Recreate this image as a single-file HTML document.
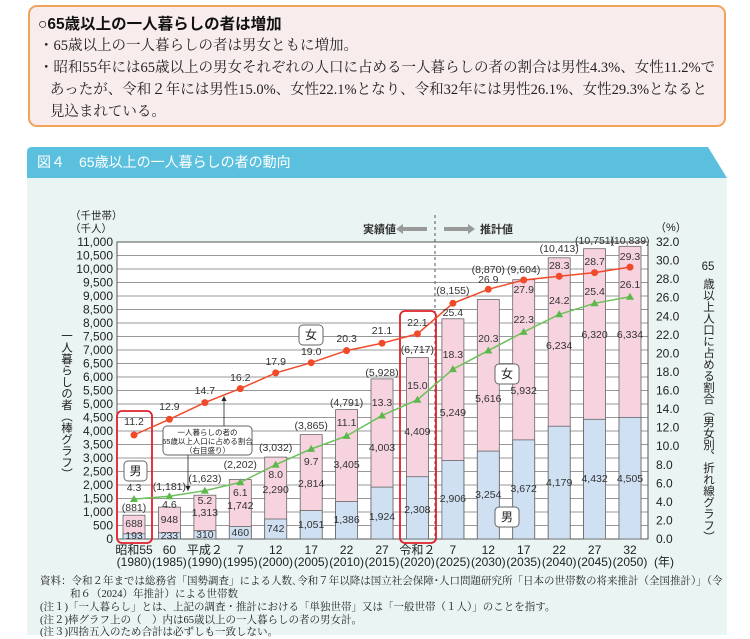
<!DOCTYPE html>
<html><head><meta charset="utf-8"><style>
html,body{margin:0;padding:0;width:750px;height:635px;overflow:hidden;background:#fff;font-family:"Liberation Sans","Noto Sans CJK JP",sans-serif;}
.box{position:absolute;left:28px;top:5px;width:694px;height:118px;border:2.5px solid #f0a35a;border-radius:9px;background:#f9ecec;}
.h{position:absolute;left:8px;top:5px;font-size:15.5px;font-weight:bold;color:#111;}
.p{position:absolute;left:9px;font-size:14.5px;color:#222;font-family:"Liberation Serif","Noto Serif CJK SC",serif;line-height:22px;white-space:nowrap;}
.foot{position:absolute;left:40px;font-size:10.5px;color:#222;font-family:"Liberation Serif","Noto Serif CJK SC",serif;white-space:nowrap;}
</style></head><body>
<div class="box">
<div class="h">○65歳以上の一人暮らしの者は増加</div>
<div class="p" style="top:28px">・65歳以上の一人暮らしの者は男女ともに増加。</div>
<div class="p" style="top:50px">・昭和55年には65歳以上の男女それぞれの人口に占める一人暮らしの者の割合は男性4.3%、女性11.2%で<br>&nbsp;&nbsp;&nbsp;あったが、令和２年には男性15.0%、女性22.1%となり、令和32年には男性26.1%、女性29.3%となると<br>&nbsp;&nbsp;&nbsp;見込まれている。</div>
</div>
<svg width="750" height="635" style="position:absolute;left:0;top:0" font-family="Liberation Sans, Noto Sans CJK JP, sans-serif">
<path d="M27,152 Q27,147 32,147 L708,147 L727,178 L27,178 Z" fill="#5bc0de"/>
<text x="37" y="167" font-size="14" fill="#fff">図４　65歳以上の一人暮らしの者の動向</text>
<rect x="27" y="178" width="700" height="457" fill="#eaf4f3"/>
<rect x="117" y="242" width="531" height="297" fill="#fff"/>
<g stroke="#999" stroke-width="1">
<line x1="117" x2="648" y1="242" y2="242"/><line x1="117" x2="648" y1="255.5" y2="255.5"/><line x1="117" x2="648" y1="269" y2="269"/><line x1="117" x2="648" y1="282.5" y2="282.5"/><line x1="117" x2="648" y1="296" y2="296"/><line x1="117" x2="648" y1="309.5" y2="309.5"/><line x1="117" x2="648" y1="323" y2="323"/><line x1="117" x2="648" y1="336.5" y2="336.5"/><line x1="117" x2="648" y1="350" y2="350"/><line x1="117" x2="648" y1="363.5" y2="363.5"/><line x1="117" x2="648" y1="377" y2="377"/><line x1="117" x2="648" y1="390.5" y2="390.5"/><line x1="117" x2="648" y1="404" y2="404"/><line x1="117" x2="648" y1="417.5" y2="417.5"/><line x1="117" x2="648" y1="431" y2="431"/><line x1="117" x2="648" y1="444.5" y2="444.5"/><line x1="117" x2="648" y1="458" y2="458"/><line x1="117" x2="648" y1="471.5" y2="471.5"/><line x1="117" x2="648" y1="485" y2="485"/><line x1="117" x2="648" y1="498.5" y2="498.5"/><line x1="117" x2="648" y1="512" y2="512"/><line x1="117" x2="648" y1="525.5" y2="525.5"/>
</g>
<rect x="117" y="242" width="531" height="297" fill="none" stroke="#555" stroke-width="1"/>
<line x1="435" y1="215" x2="435" y2="539" stroke="#555" stroke-dasharray="3,3"/>
<g stroke="#666" stroke-width="0.8">
<rect x="123" y="515.2" width="22" height="23.8" fill="#f7d3df"/><rect x="123" y="533.8" width="22" height="5.2" fill="#cfe0f3"/>
<rect x="158.4" y="507.1" width="22" height="31.9" fill="#f7d3df"/><rect x="158.4" y="532.7" width="22" height="6.3" fill="#cfe0f3"/>
<rect x="193.9" y="495.2" width="22" height="43.8" fill="#f7d3df"/><rect x="193.9" y="530.6" width="22" height="8.4" fill="#cfe0f3"/>
<rect x="229.3" y="479.5" width="22" height="59.5" fill="#f7d3df"/><rect x="229.3" y="526.6" width="22" height="12.4" fill="#cfe0f3"/>
<rect x="264.7" y="457.1" width="22" height="81.9" fill="#f7d3df"/><rect x="264.7" y="519" width="22" height="20" fill="#cfe0f3"/>
<rect x="300.2" y="434.6" width="22" height="104.4" fill="#f7d3df"/><rect x="300.2" y="510.6" width="22" height="28.4" fill="#cfe0f3"/>
<rect x="335.6" y="409.6" width="22" height="129.4" fill="#f7d3df"/><rect x="335.6" y="501.6" width="22" height="37.4" fill="#cfe0f3"/>
<rect x="371" y="378.9" width="22" height="160.1" fill="#f7d3df"/><rect x="371" y="487.1" width="22" height="51.9" fill="#cfe0f3"/>
<rect x="406.4" y="357.6" width="22" height="181.4" fill="#f7d3df"/><rect x="406.4" y="476.7" width="22" height="62.3" fill="#cfe0f3"/>
<rect x="441.9" y="318.8" width="22" height="220.2" fill="#f7d3df"/><rect x="441.9" y="460.5" width="22" height="78.5" fill="#cfe0f3"/>
<rect x="477.3" y="299.5" width="22" height="239.5" fill="#f7d3df"/><rect x="477.3" y="451.1" width="22" height="87.9" fill="#cfe0f3"/>
<rect x="512.7" y="279.7" width="22" height="259.3" fill="#f7d3df"/><rect x="512.7" y="439.9" width="22" height="99.1" fill="#cfe0f3"/>
<rect x="548.2" y="257.8" width="22" height="281.2" fill="#f7d3df"/><rect x="548.2" y="426.2" width="22" height="112.8" fill="#cfe0f3"/>
<rect x="583.6" y="248.7" width="22" height="290.3" fill="#f7d3df"/><rect x="583.6" y="419.3" width="22" height="119.7" fill="#cfe0f3"/>
<rect x="619" y="246.3" width="22" height="292.7" fill="#f7d3df"/><rect x="619" y="417.4" width="22" height="121.6" fill="#cfe0f3"/>
</g>
<rect x="117" y="411" width="35" height="132" rx="5" fill="none" stroke="#e0202a" stroke-width="1.8"/>
<rect x="400" y="311" width="36" height="232" rx="5" fill="none" stroke="#e0202a" stroke-width="1.8"/>
<polyline fill="none" stroke="#f04a2a" stroke-width="1.5" points="134,435 169.4,419.3 204.9,402.6 240.3,388.6 275.7,372.9 311.2,362.7 346.6,350.6 382,343.2 417.4,333.9 452.9,303.3 488.3,289.3 523.7,280 559.2,276.3 594.6,272.6 630,267.1"/>
<g fill="#f04a2a"><circle cx="134" cy="435" r="3.5"/><circle cx="169.4" cy="419.3" r="3.5"/><circle cx="204.9" cy="402.6" r="3.5"/><circle cx="240.3" cy="388.6" r="3.5"/><circle cx="275.7" cy="372.9" r="3.5"/><circle cx="311.2" cy="362.7" r="3.5"/><circle cx="346.6" cy="350.6" r="3.5"/><circle cx="382" cy="343.2" r="3.5"/><circle cx="417.4" cy="333.9" r="3.5"/><circle cx="452.9" cy="303.3" r="3.5"/><circle cx="488.3" cy="289.3" r="3.5"/><circle cx="523.7" cy="280" r="3.5"/><circle cx="559.2" cy="276.3" r="3.5"/><circle cx="594.6" cy="272.6" r="3.5"/><circle cx="630" cy="267.1" r="3.5"/></g>
<polyline fill="none" stroke="#6cc05a" stroke-width="1.5" points="134,499.1 169.4,496.3 204.9,490.7 240.3,482.4 275.7,464.7 311.2,449 346.6,436 382,415.6 417.4,399.8 452.9,369.2 488.3,350.6 523.7,332 559.2,314.4 594.6,303.3 630,296.8"/>
<g fill="#5cb84a">
<path d="M134,495 l4,7 h-8z"/><path d="M169.4,492.2 l4,7 h-8z"/><path d="M204.9,486.6 l4,7 h-8z"/><path d="M240.3,478.3 l4,7 h-8z"/><path d="M275.7,460.6 l4,7 h-8z"/><path d="M311.2,444.9 l4,7 h-8z"/><path d="M346.6,431.9 l4,7 h-8z"/><path d="M382,411.5 l4,7 h-8z"/><path d="M417.4,395.7 l4,7 h-8z"/><path d="M452.9,365.1 l4,7 h-8z"/><path d="M488.3,346.5 l4,7 h-8z"/><path d="M523.7,327.9 l4,7 h-8z"/><path d="M559.2,310.3 l4,7 h-8z"/><path d="M594.6,299.2 l4,7 h-8z"/><path d="M630,292.7 l4,7 h-8z"/>
</g>
<g font-size="10.5" fill="#333" text-anchor="middle" dominant-baseline="central">
<text x="134" y="422">11.2</text><text x="169.4" y="407">12.9</text><text x="204.9" y="391">14.7</text><text x="240.3" y="378">16.2</text><text x="275.7" y="362">17.9</text><text x="311.2" y="352">19.0</text><text x="346.6" y="339">20.3</text><text x="382" y="331">21.1</text><text x="417.4" y="323">22.1</text><text x="452.9" y="313">25.4</text><text x="488.3" y="280">26.9</text><text x="523.7" y="290">27.9</text><text x="559.2" y="266">28.3</text><text x="594.6" y="262">28.7</text><text x="630" y="257">29.3</text>
<text x="134" y="488">4.3</text><text x="169.4" y="505">4.6</text><text x="204.9" y="501">5.2</text><text x="240.3" y="493">6.1</text><text x="275.7" y="475">8.0</text><text x="311.2" y="462">9.7</text><text x="346.6" y="423">11.1</text><text x="382" y="403">13.3</text><text x="417.4" y="386">15.0</text><text x="452.9" y="355">18.3</text><text x="488.3" y="339">20.3</text><text x="523.7" y="320">22.3</text><text x="559.2" y="301">24.2</text><text x="594.6" y="292">25.4</text><text x="630" y="285">26.1</text>
<text x="134" y="508">(881)</text><text x="169.4" y="487">(1,181)</text><text x="204.9" y="479">(1,623)</text><text x="240.3" y="465">(2,202)</text><text x="275.7" y="448">(3,032)</text><text x="311.2" y="426">(3,865)</text><text x="346.6" y="403">(4,791)</text><text x="382" y="373">(5,928)</text><text x="417.4" y="350">(6,717)</text><text x="452.9" y="291">(8,155)</text><text x="488.3" y="270">(8,870)</text><text x="523.7" y="270">(9,604)</text><text x="559.2" y="249">(10,413)</text><text x="594.6" y="241">(10,751)</text><text x="630" y="241">(10,839)</text>
<text x="134" y="524">688</text><text x="169.4" y="520">948</text><text x="204.9" y="513">1,313</text><text x="240.3" y="506">1,742</text><text x="275.7" y="490">2,290</text><text x="311.2" y="484">2,814</text><text x="346.6" y="465">3,405</text><text x="382" y="448">4,003</text><text x="417.4" y="432">4,409</text><text x="452.9" y="413">5,249</text><text x="488.3" y="399">5,616</text><text x="523.7" y="391">5,932</text><text x="559.2" y="346">6,234</text><text x="594.6" y="335">6,320</text><text x="630" y="335">6,334</text>
<text x="134" y="536">193</text><text x="169.4" y="536">233</text><text x="204.9" y="535">310</text><text x="240.3" y="533">460</text><text x="275.7" y="529">742</text><text x="311.2" y="525">1,051</text><text x="346.6" y="520">1,386</text><text x="382" y="517">1,924</text><text x="417.4" y="510">2,308</text><text x="452.9" y="499">2,906</text><text x="488.3" y="495">3,254</text><text x="523.7" y="489">3,672</text><text x="559.2" y="483">4,179</text><text x="594.6" y="479">4,432</text><text x="630" y="479">4,505</text>
</g>
<g font-size="12" fill="#222" text-anchor="end" dominant-baseline="central">
<text x="113" y="242">11,000</text><text x="113" y="255.5">10,500</text><text x="113" y="269">10,000</text><text x="113" y="282.5">9,500</text><text x="113" y="296">9,000</text><text x="113" y="309.5">8,500</text><text x="113" y="323">8,000</text><text x="113" y="336.5">7,500</text><text x="113" y="350">7,000</text><text x="113" y="363.5">6,500</text><text x="113" y="377">6,000</text><text x="113" y="390.5">5,500</text><text x="113" y="404">5,000</text><text x="113" y="417.5">4,500</text><text x="113" y="431">4,000</text><text x="113" y="444.5">3,500</text><text x="113" y="458">3,000</text><text x="113" y="471.5">2,500</text><text x="113" y="485">2,000</text><text x="113" y="498.5">1,500</text><text x="113" y="512">1,000</text><text x="113" y="525.5">500</text><text x="113" y="539">0</text>
</g>
<g font-size="12" fill="#222" dominant-baseline="central">
<text x="656" y="242">32.0</text><text x="656" y="260.6">30.0</text><text x="656" y="279.1">28.0</text><text x="656" y="297.7">26.0</text><text x="656" y="316.3">24.0</text><text x="656" y="334.8">22.0</text><text x="656" y="353.4">20.0</text><text x="656" y="371.9">18.0</text><text x="656" y="390.5">16.0</text><text x="656" y="409.1">14.0</text><text x="656" y="427.6">12.0</text><text x="656" y="446.2">10.0</text><text x="656" y="464.8">8.0</text><text x="656" y="483.3">6.0</text><text x="656" y="501.9">4.0</text><text x="656" y="520.4">2.0</text><text x="656" y="539">0.0</text>
<text x="655" y="228" font-size="11">（%）</text>
<text x="70" y="216" font-size="10.5">（千世帯）</text>
<text x="70" y="229" font-size="10.5">（千人）</text>
</g>
<g font-size="12" fill="#222" text-anchor="middle">
<text x="134" y="554">昭和55</text><text x="169.4" y="554">60</text><text x="204.9" y="554">平成２</text><text x="240.3" y="554">7</text><text x="275.7" y="554">12</text><text x="311.2" y="554">17</text><text x="346.6" y="554">22</text><text x="382" y="554">27</text><text x="417.4" y="554">令和２</text><text x="452.9" y="554">7</text><text x="488.3" y="554">12</text><text x="523.7" y="554">17</text><text x="559.2" y="554">22</text><text x="594.6" y="554">27</text><text x="630" y="554">32</text>
<text x="134" y="566">(1980)</text><text x="169.4" y="566">(1985)</text><text x="204.9" y="566">(1990)</text><text x="240.3" y="566">(1995)</text><text x="275.7" y="566">(2000)</text><text x="311.2" y="566">(2005)</text><text x="346.6" y="566">(2010)</text><text x="382" y="566">(2015)</text><text x="417.4" y="566">(2020)</text><text x="452.9" y="566">(2025)</text><text x="488.3" y="566">(2030)</text><text x="523.7" y="566">(2035)</text><text x="559.2" y="566">(2040)</text><text x="594.6" y="566">(2045)</text><text x="630" y="566">(2050)</text>
<text x="664" y="566">(年)</text>
</g>
<text x="66" y="330" font-size="11.5" fill="#222" style="writing-mode:vertical-rl">一人暮らしの者（棒グラフ）</text>
<text x="708" y="270" font-size="11.5" fill="#222" text-anchor="middle">65</text>
<text x="708" y="278" font-size="11.5" fill="#222" style="writing-mode:vertical-rl">歳以上人口に占める割合（男女別、折れ線グラフ）</text>
<text x="363" y="233" font-size="11" font-weight="bold" fill="#333">実績値</text>
<path d="M396,229 l7,-5 v3 h24 v4 h-24 v3z" fill="#999"/>
<path d="M444,227 h24 v-3 l7,5 l-7,5 v-3 h-24z" fill="#999"/>
<text x="480" y="233" font-size="11" font-weight="bold" fill="#333">推計値</text>
<g fill="#fff" stroke="#666" stroke-width="1">
<rect x="163" y="426" width="89" height="29" rx="4"/>
<rect x="124" y="461" width="23" height="20" rx="4"/>
<rect x="299" y="325" width="24" height="20" rx="4"/>
<rect x="495" y="364" width="24" height="20" rx="4"/>
<rect x="495" y="507" width="24" height="20" rx="4"/>
</g>
<g font-size="12" fill="#222" text-anchor="middle" dominant-baseline="central">
<text x="135.5" y="471">男</text><text x="311" y="335">女</text><text x="507" y="374">女</text><text x="507" y="517">男</text>
</g>
<g font-size="7.5" fill="#222" text-anchor="middle">
<text x="207.5" y="435">一人暮らしの者の</text><text x="207.5" y="444">65歳以上人口に占める割合</text><text x="207.5" y="453">（右目盛り）</text>
</g>
<line x1="224" y1="426" x2="224" y2="400" stroke="#222" stroke-width="0.8"/><path d="M224,396 l-2.5,5 h5z" fill="#222"/>
<line x1="188" y1="455" x2="188" y2="487" stroke="#222" stroke-width="0.8"/><path d="M188,491 l-2.5,-5 h5z" fill="#222"/>
</svg>
<div class="foot" style="top:573px">資料：令和２年までは総務省「国勢調査」による人数､令和７年以降は国立社会保障･人口問題研究所「日本の世帯数の将来推計（全国推計）」（令</div>
<div class="foot" style="top:586px;left:70px">和６（2024）年推計）による世帯数</div>
<div class="foot" style="top:599px">(注１)「一人暮らし」とは、上記の調査・推計における「単独世帯」又は「一般世帯（１人）」のことを指す。</div>
<div class="foot" style="top:612px">(注２)棒グラフ上の（　）内は65歳以上の一人暮らしの者の男女計。</div>
<div class="foot" style="top:624px">(注３)四捨五入のため合計は必ずしも一致しない。</div>
</body></html>
